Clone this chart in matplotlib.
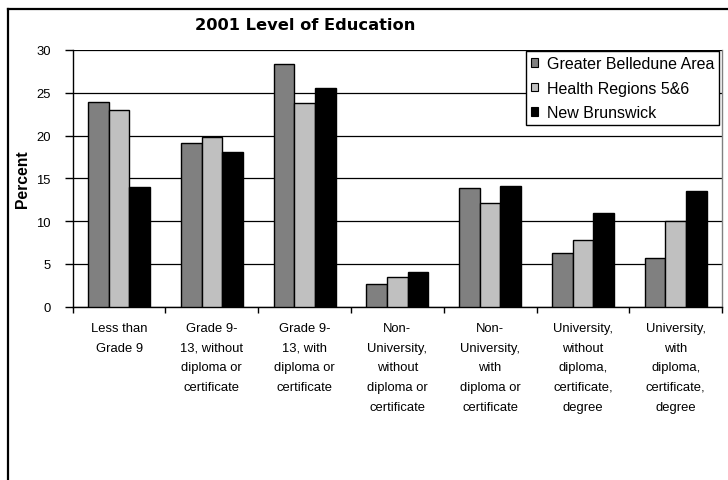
import numpy as np
import matplotlib
matplotlib.use('Agg')
import matplotlib.pyplot as plt
from matplotlib.lines import Line2D

# data (percent)
categories = [
    "Less than\nGrade 9",
    "Grade 9-\n13, without\ndiploma or\ncertificate",
    "Grade 9-\n13, with\ndiploma or\ncertificate",
    "Non-\nUniversity,\nwithout\ndiploma or\ncertificate",
    "Non-\nUniversity,\nwith\ndiploma or\ncertificate",
    "University,\nwithout\ndiploma,\ncertificate,\ndegree",
    "University,\nwith\ndiploma,\ncertificate,\ndegree",
]
series_names = ["Greater Belledune Area", "Health Regions 5&6", "New Brunswick"]
belledune = [23.9, 19.1, 28.4, 2.7, 13.9, 6.3, 5.7]
health_regions = [23.0, 19.8, 23.8, 3.5, 12.1, 7.8, 10.0]
new_brunswick = [14.0, 18.1, 25.5, 4.1, 14.1, 11.0, 13.5]
colors = ["#808080", "#C0C0C0", "#000000"]

plt.rcParams['font.family'] = ['Liberation Sans', 'DejaVu Sans']
fs = 9.4

fig = plt.figure(figsize=(7.28, 4.81), dpi=100)
ax = fig.add_axes([0.0999, 0.3603, 0.8919, 0.5337])

x = np.arange(len(categories))
w = 0.223
for k, vals in enumerate([belledune, health_regions, new_brunswick]):
    ax.bar(x + (k - 1) * w, vals, width=w, color=colors[k], edgecolor='black',
           linewidth=1.0, label=series_names[k], zorder=3)

ax.set_xlim(-0.5, len(categories) - 0.5)
ax.set_ylim(0, 30)
ax.set_yticks(range(0, 31, 5))
ax.yaxis.grid(True, color='black', linewidth=0.9, zorder=0)
ax.tick_params(axis='y', direction='out', length=6, width=1, pad=10, labelsize=fs)

ax.set_xticks(x)
ax.set_xticklabels(categories, fontsize=fs, linespacing=1.85, va='top')
ax.set_xticks(np.arange(-0.5, len(categories)), minor=True)
ax.tick_params(axis='x', which='major', length=0, pad=11)
ax.tick_params(axis='x', which='minor', direction='out', length=4, width=1)

for s in ['left', 'bottom']:
    ax.spines[s].set_color('black')
    ax.spines[s].set_linewidth(1)
ax.spines['top'].set_visible(False)
ax.spines['right'].set_color('#808080')
ax.spines['right'].set_linewidth(1)

leg = ax.legend(loc='upper right', bbox_to_anchor=(0.988, 0.891),
                bbox_transform=fig.transFigure, borderaxespad=0,
                fontsize=11.5, frameon=True, fancybox=False, shadow=False,
                handlelength=0.45, handleheight=0.45, handletextpad=0.55,
                labelspacing=0.6, borderpad=0.3)
leg.get_frame().set_edgecolor('black')
leg.get_frame().set_linewidth(1)
leg.get_frame().set_alpha(1)
for h in leg.legend_handles:
    h.set_linewidth(0.8)

fig.text(305 / 728, 1 - 25 / 481, "2001 Level of Education", ha='center',
         va='center', fontsize=11.7, fontweight='bold', family='DejaVu Sans')
fig.text(23 / 728, 0.628, "Percent", rotation=90, ha='center', va='center',
         fontsize=11.3, fontweight='bold')

# outer frame (only the left and top edges are visible in the crop)
fig.add_artist(Line2D([8 / 728, 8 / 728], [0, 1 - 10 / 481], color='black',
                      linewidth=1.6, transform=fig.transFigure))
fig.add_artist(Line2D([8 / 728, 1], [1 - 10 / 481, 1 - 10 / 481], color='black',
                      linewidth=1.6, transform=fig.transFigure))

fig.savefig('out.png', dpi=100)
